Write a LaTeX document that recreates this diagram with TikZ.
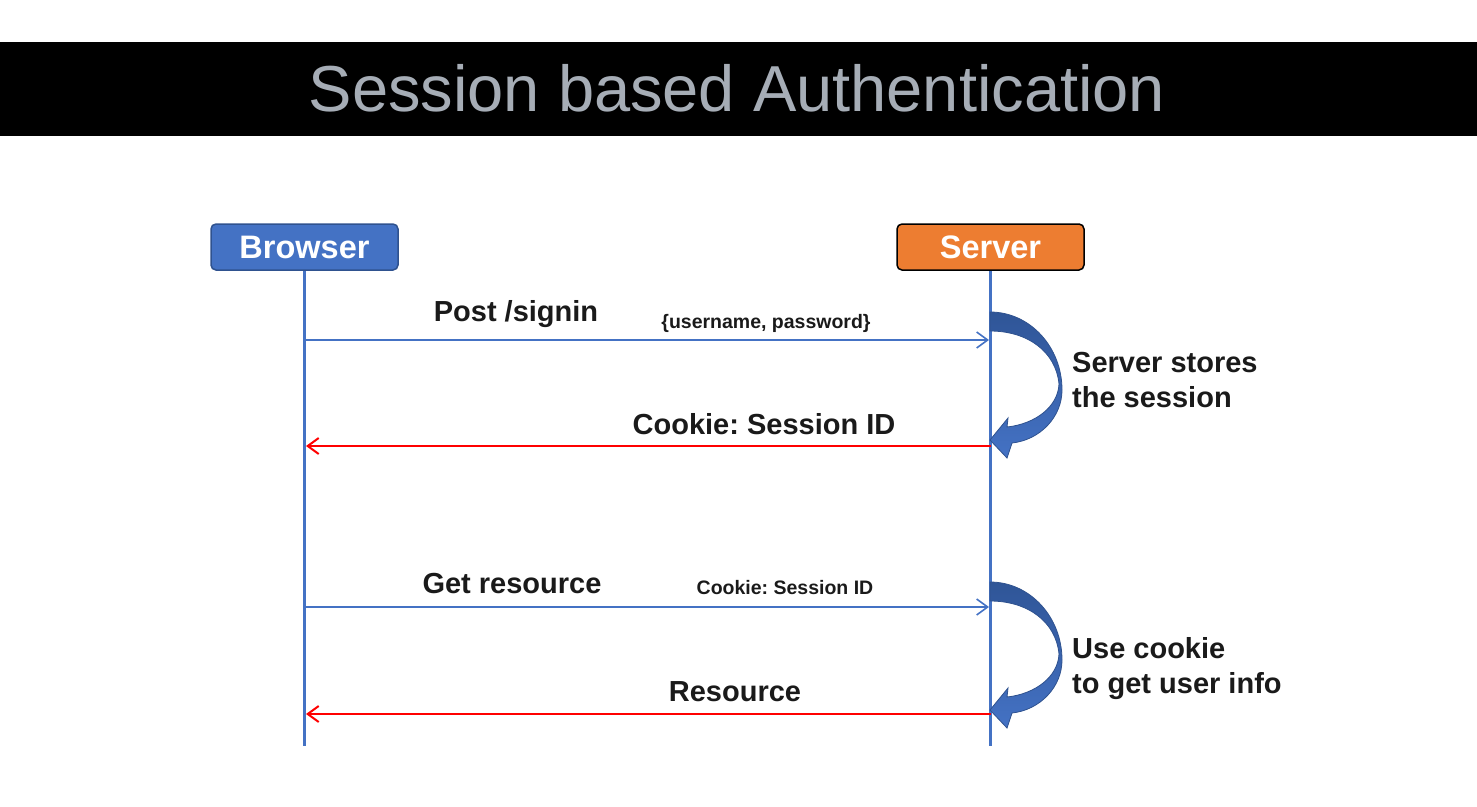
\documentclass[tikz,border=0pt]{standalone}
\usepackage{fontspec}
\setmainfont{Liberation Sans}
\usetikzlibrary{arrows.meta}
\frenchspacing

\definecolor{boxblue}{RGB}{68,114,196}
\definecolor{boxblueline}{RGB}{47,82,143}
\definecolor{boxorange}{RGB}{237,125,49}
\definecolor{titlegray}{RGB}{166,173,182}
\definecolor{curvedark}{RGB}{47,85,151}
\definecolor{textdark}{RGB}{26,26,26}

\tikzstyle{actor} = [rectangle, rounded corners=5pt, draw, line width=1.5pt,
    minimum width=187pt, minimum height=46pt, inner sep=0pt,
    text=white, font=\fontsize{32.5}{36}\selectfont\bfseries]
\tikzstyle{lifeline} = [draw=boxblue, line width=3pt]
\tikzstyle{request} = [draw=boxblue, line width=1.6pt, shorten >=1.5pt,
    -{Straight Barb[length=11pt,width=16pt,line width=1.6pt]}]
\tikzstyle{reply} = [draw=red, line width=2pt, shorten >=1.5pt,
    -{Straight Barb[length=11pt,width=16pt,line width=2pt]}]
\tikzstyle{msg} = [anchor=base, inner sep=0pt, text=textdark,
    font=\fontsize{29}{35}\selectfont\bfseries]
\tikzstyle{detail} = [anchor=base, inner sep=0pt, text=textdark,
    font=\fontsize{19.5}{23}\selectfont\bfseries]
\tikzstyle{note} = [anchor=base west, align=left, inner sep=0pt, text=textdark,
    font=\fontsize{29}{35}\selectfont\bfseries]
\tikzstyle{turn} = [draw=boxblueline, line width=0.8pt, top color=curvedark, bottom color=boxblue]

\begin{document}
\begin{tikzpicture}[x=1pt, y=-1pt, node distance=686pt]
\useasboundingbox (0,0) rectangle (1477,806);

%Title
\fill[black] (0,42) rectangle (1477,136);
\node (Title) [anchor=base, inner sep=0pt, text=titlegray, font=\fontsize{65}{70}\selectfont]
    at (737,111) {Session based Authentication};

%Actors
\node (Browser) [actor, fill=boxblue, draw=boxblueline] at (304.5,247) {Browser};
\node (Server) [actor, fill=boxorange, draw=black, right of=Browser] {Server};

%Lifelines
\path (Browser) ++(0,499) coordinate (BrowserEnd);
\path (Server) ++(0,499) coordinate (ServerEnd);
\path [lifeline](Browser.south)--(BrowserEnd);
\path [lifeline](Server.south)--(ServerEnd);

%Message points
\path (Browser) ++(0,93) coordinate (b1);
\path (Server) ++(0,93) coordinate (s1);
\path (Browser) ++(0,199) coordinate (b2);
\path (Server) ++(0,199) coordinate (s2);
\path (Browser) ++(0,360) coordinate (b3);
\path (Server) ++(0,360) coordinate (s3);
\path (Browser) ++(0,467) coordinate (b4);
\path (Server) ++(0,467) coordinate (s4);

\path [request](b1)--(s1);
\path [reply](s2)--(b2);
\path [request](b3)--(s3);
\path [reply](s4)--(b4);

%Labels
\node (PostLabel) [msg] at (516,321) {Post /signin};
\node (PostData) [detail] at (766,328) {\{username, password\}};
\node (CookieLabel) [msg] at (764,434) {Cookie: Session ID};
\node (GetLabel) [msg] at (512,593) {Get resource};
\node (GetData) [detail] at (785,594) {Cookie: Session ID};
\node (ResourceLabel) [msg] at (735,701) {Resource};

%Server side
\foreach \y in {312,582}{
  \begin{scope}[shift={(990,\y)}]
    \path [turn] (0,0) .. controls (40,0) and (72,35) .. (72,78)
      .. controls (72,105) and (50,128) .. (22,131) -- (17,146) -- (0,128)
      -- (18,106) -- (17,115) .. controls (45,112) and (68,95) .. (69,72)
      .. controls (66,40) and (38,19) .. (0,19) -- cycle;
  \end{scope}
}
\node (StoreNote) [note] at (1072,407) {Server stores\\the session};
\node (UseNote) [note] at (1072,693) {Use cookie\\to get user info};

\end{tikzpicture}
\end{document}
